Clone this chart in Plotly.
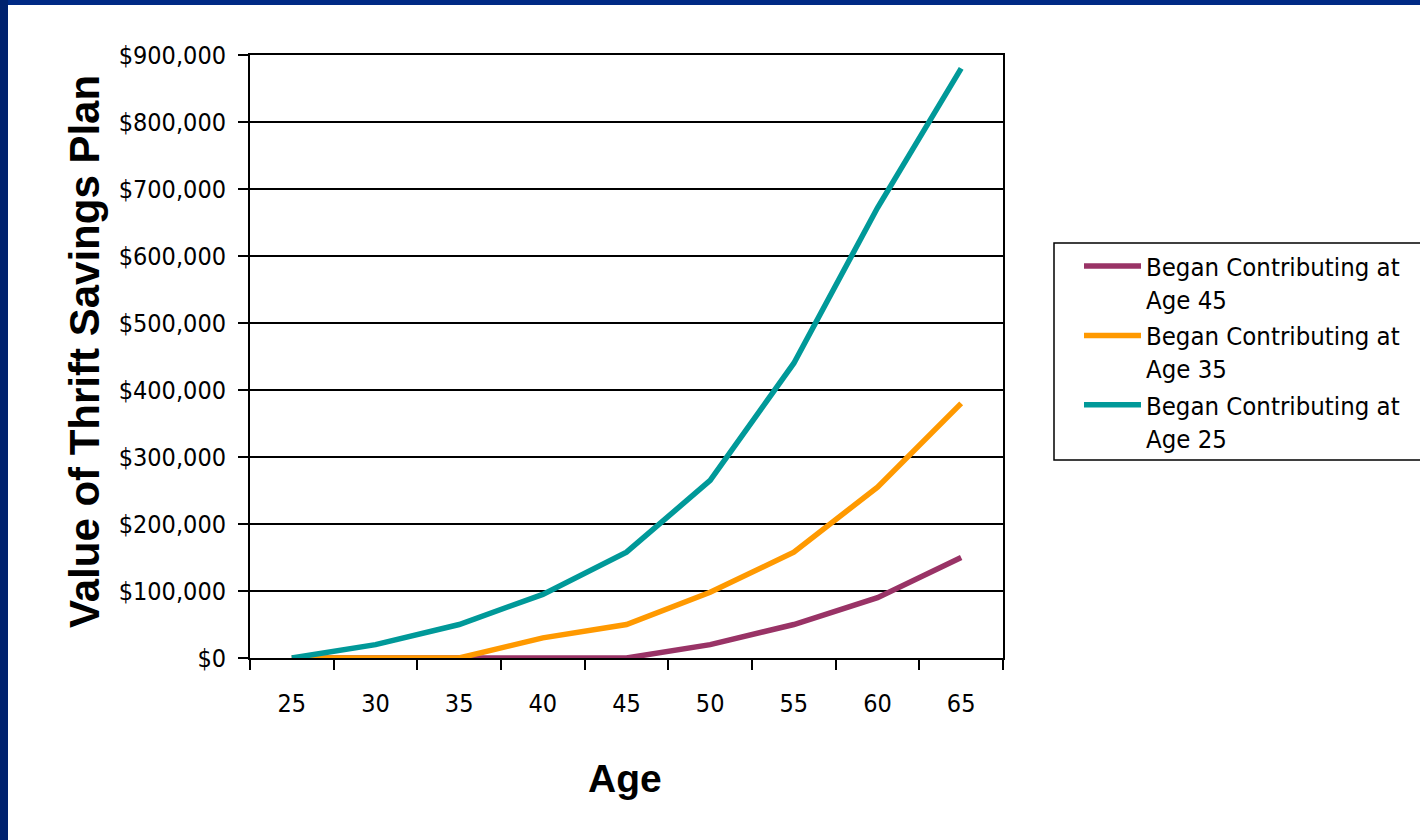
import plotly.graph_objects as go

ages = ["25", "30", "35", "40", "45", "50", "55", "60", "65"]
began_45 = [0, 0, 0, 0, 0, 20000, 50000, 90000, 150000]
began_35 = [0, 0, 0, 30000, 50000, 98000, 158000, 255000, 380000]
began_25 = [0, 20000, 50000, 95000, 158000, 265000, 440000, 672000, 880000]

series_names = ["Began Contributing at<br>Age 45",
                "Began Contributing at<br>Age 35",
                "Began Contributing at<br>Age 25"]
series_colors = ["#993366", "#FF9900", "#009999"]

y_ticks = [0, 100000, 200000, 300000, 400000, 500000, 600000, 700000, 800000, 900000]
y_labels = ["$0", "$100,000", "$200,000", "$300,000", "$400,000", "$500,000",
            "$600,000", "$700,000", "$800,000", "$900,000"]

W, H = 1420, 840
L, R, T, B = 250, 1003, 55, 658
PW, PH = R - L, B - T

def px_x(p):
    return (p - L) / PW

def px_y(p):
    return (B - p) / PH

NARROW = "Liberation Sans Narrow, Arial Narrow, DejaVu Sans Condensed, sans-serif"
BOLD = "Liberation Sans, Arial, sans-serif"

fig = go.Figure()
for vals, name, col in zip([began_45, began_35, began_25], series_names, series_colors):
    fig.add_trace(go.Scatter(x=ages, y=vals, mode="lines", name=name,
                             line=dict(color=col, width=5.5), cliponaxis=False))

fig.update_layout(
    width=W, height=H,
    margin=dict(l=L, r=W - R, t=T, b=H - B, autoexpand=False),
    paper_bgcolor="white", plot_bgcolor="white",
    font=dict(family=NARROW, size=25, color="black"),
    showlegend=True,
    legend=dict(x=px_x(1054), y=px_y(243), xanchor="left", yanchor="top",
                borderwidth=0, bgcolor="rgba(0,0,0,0)",
                font=dict(family=NARROW, size=25.5, color="black"),
                valign="top", traceorder="normal", itemwidth=57,
                indentation=25),
    xaxis=dict(type="category", categoryarray=ages, range=[-0.5, 8.5],
               tickson="boundaries", ticks="outside", ticklen=10, tickwidth=2,
               tickcolor="black", showline=True, linecolor="black", linewidth=2,
               mirror=True, showgrid=False, zeroline=False, layer="below traces",
               ticklabelstandoff=22,
               tickfont=dict(family=NARROW, size=25, color="black")),
    yaxis=dict(range=[0, 900000], tickvals=y_ticks, ticktext=y_labels,
               ticks="outside", ticklen=10, tickwidth=2, tickcolor="black",
               showline=True, linecolor="black", linewidth=2, mirror=True,
               showgrid=True, gridcolor="black", gridwidth=1.5, zeroline=False,
               layer="below traces", ticklabelstandoff=7,
               tickfont=dict(family=NARROW, size=25, color="black")),
    annotations=[
        dict(text="Age", x=px_x(625), y=px_y(778), xref="paper", yref="paper",
             showarrow=False, xanchor="center", yanchor="middle",
             font=dict(family=BOLD, size=39, color="black", weight="bold")),
        dict(text="Value of Thrift Savings Plan", x=px_x(84), y=px_y(352),
             xref="paper", yref="paper", showarrow=False, textangle=-90,
             xanchor="center", yanchor="middle",
             font=dict(family=BOLD, size=42, color="black", weight="bold")),
    ],
    shapes=[
        dict(type="rect", xref="paper", yref="paper", x0=px_x(1054), x1=px_x(1430),
             y0=px_y(460), y1=px_y(243), fillcolor="rgba(0,0,0,0)",
             line=dict(color="black", width=1.5), layer="below"),
        dict(type="rect", xref="paper", yref="paper", x0=px_x(0), x1=px_x(W),
             y0=px_y(5), y1=px_y(0), fillcolor="#002A85", line=dict(width=0),
             layer="above"),
        dict(type="rect", xref="paper", yref="paper", x0=px_x(0), x1=px_x(8),
             y0=px_y(H), y1=px_y(0), fillcolor="#00226E", line=dict(width=0),
             layer="above"),
    ],
)

fig.write_html("out.html", config={"displayModeBar": False},
               post_script="document.body.style.margin='0';document.body.style.overflow='hidden';")
